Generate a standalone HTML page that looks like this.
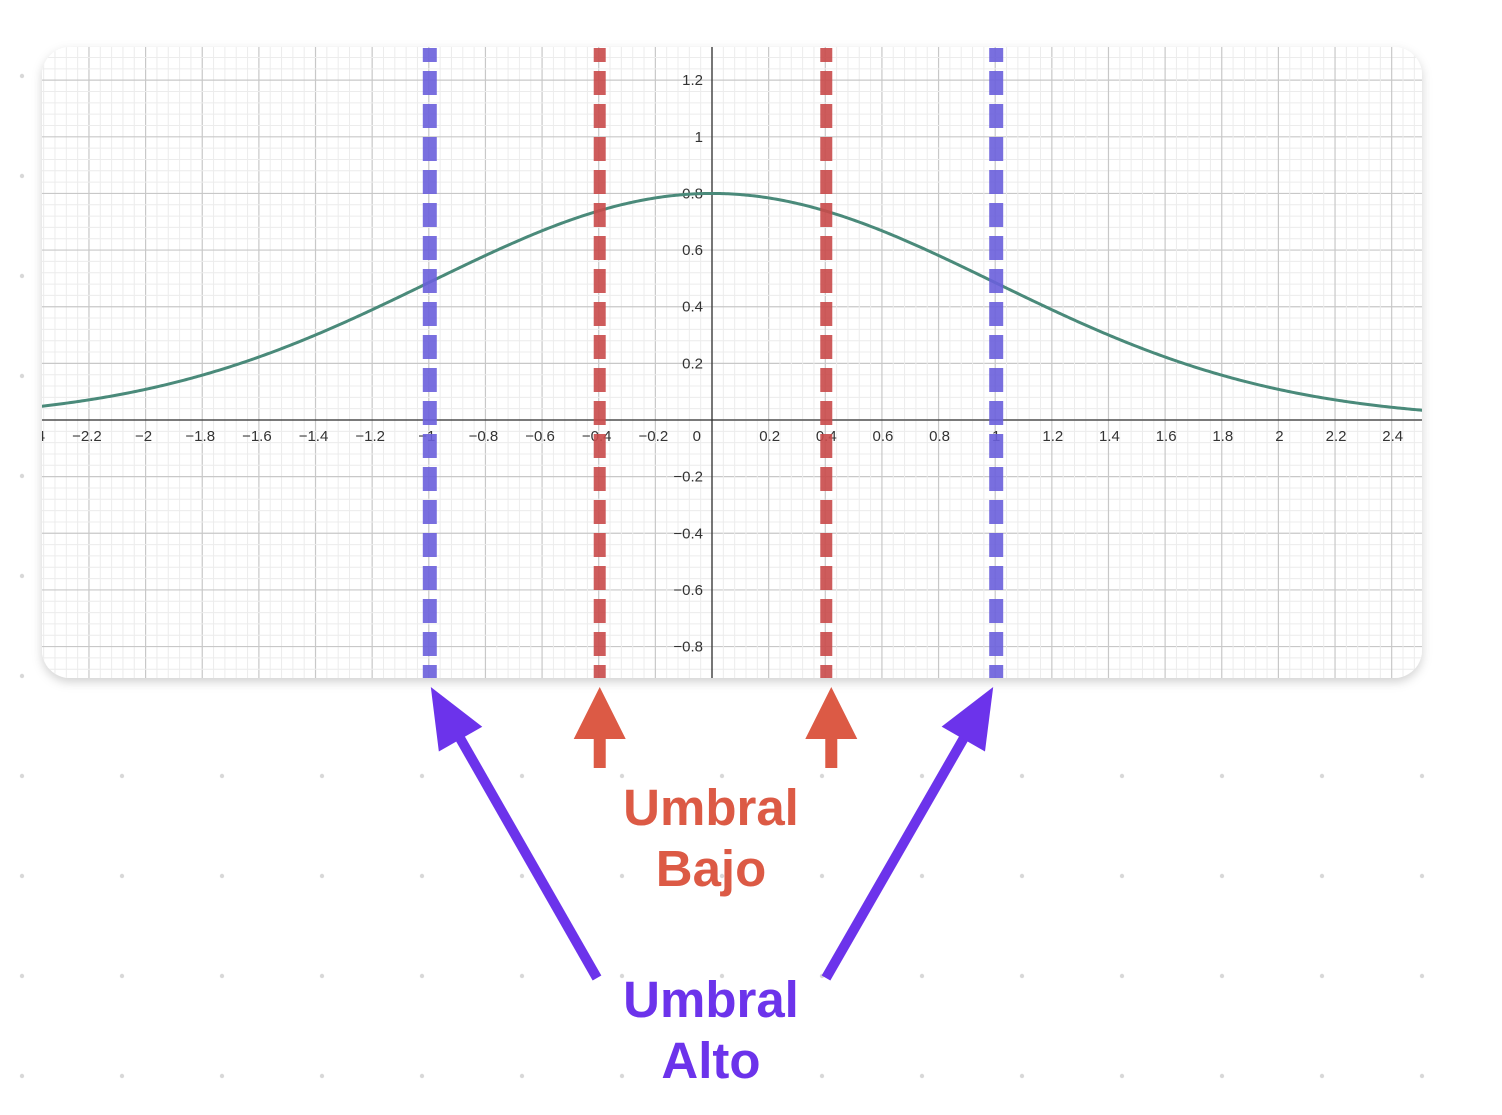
<!DOCTYPE html>
<html><head><meta charset="utf-8">
<style>
html,body{margin:0;padding:0;background:#fff;}
svg{display:block;font-family:"Liberation Sans",sans-serif;}
</style></head>
<body>
<svg id="s" width="1502" height="1115" viewBox="0 0 1502 1115">
<defs>
<clipPath id="card"><rect x="42" y="47" width="1380" height="631" rx="28"/></clipPath>
<filter id="sh" x="-5%" y="-5%" width="110%" height="115%"><feDropShadow dx="0" dy="4" stdDeviation="5" flood-color="#000" flood-opacity="0.18"/></filter>
</defs>
<g id="dots"></g>
<rect x="42" y="47" width="1380" height="631" rx="28" fill="#fff" filter="url(#sh)"/>
<g clip-path="url(#card)">
<g id="grid"></g>
<g id="axes"></g>
<g id="marks"></g>
</g>
<g id="annot"></g>
</svg>
<script>
const xTicks=[-2.4,-2.2,-2,-1.8,-1.6,-1.4,-1.2,-1,-0.8,-0.6,-0.4,-0.2,0.2,0.4,0.6,0.8,1,1.2,1.4,1.6,1.8,2,2.2,2.4];
const yTicks=[-0.8,-0.6,-0.4,-0.2,0.2,0.4,0.6,0.8,1,1.2];
const lowThresholds=[-0.4,0.4];
const highThresholds=[-1,1];
const peak=0.8;
const sigma=1;

const X0=712,Y0=420,U=283.2;
const sx=v=>X0+v*U, sy=v=>Y0-v*U;
const NS='http://www.w3.org/2000/svg';
function mk(tag,attrs,parent){const e=document.createElementNS(NS,tag);for(const k in attrs)e.setAttribute(k,attrs[k]);parent.appendChild(e);return e;}
const G=id=>document.getElementById(id);

for(let x=22;x<1502;x+=100)for(let y=76;y<1115;y+=100){
 if(x>30&&x<1430&&y>40&&y<690)continue;
 const d=mk('circle',{cx:x,cy:y,r:2.2,fill:'#d8d8d8'},G('dots'));
 
 
}
for(let i=-70;i<=70;i++){
 const v=i*0.04;const major=i%5===0;
 const x=sx(v);if(x>30&&x<1430){const l=mk('line',{x1:x,x2:x,y1:40,y2:690,stroke:major?'#c8c8c8':'#ececec','stroke-width':major?1.2:1},G('grid'));
 }
 const y=sy(v);if(y>40&&y<690){const l=mk('line',{x1:30,x2:1430,y1:y,y2:y,stroke:major?'#c8c8c8':'#ececec','stroke-width':major?1.2:1},G('grid'));
 }
}
let a=mk('line',{x1:30,x2:1430,y1:Y0,y2:Y0,stroke:'#333','stroke-width':1.3},G('axes'));

a=mk('line',{x1:X0,x2:X0,y1:40,y2:690,stroke:'#333','stroke-width':1.3},G('axes'));

const fmt=v=>(v<0?'\u2212':'')+String(Math.abs(+v.toFixed(2)));
xTicks.forEach(v=>{const t=mk('text',{x:sx(v)+(v<0?-2:1),y:Y0+21,'text-anchor':'middle','font-size':15,fill:'#333'},G('axes'));t.textContent=fmt(v);
 });
const z=mk('text',{x:X0-11,y:Y0+21,'text-anchor':'end','font-size':15,fill:'#333'},G('axes'));z.textContent='0';

yTicks.forEach(v=>{const t=mk('text',{x:X0-9,y:sy(v)+5,'text-anchor':'end','font-size':15,fill:'#333'},G('axes'));t.textContent=fmt(v);
 });
let d='';for(let px=30;px<=1430;px+=2){const v=(px-X0)/U;const f=peak*Math.exp(-v*v/(2*sigma*sigma));d+=(d?'L':'M')+px+' '+sy(f).toFixed(2);}
const c=mk('path',{d:d,fill:'none',stroke:'#4a8a7a','stroke-width':3},G('marks'));

lowThresholds.forEach(v=>{const l=mk('line',{x1:sx(v)+1,x2:sx(v)+1,y1:48,y2:678,stroke:'#c94a4a','stroke-opacity':0.9,'stroke-width':12,'stroke-dasharray':'24 9','stroke-dashoffset':'10'},G('marks'));
 });
highThresholds.forEach(v=>{const l=mk('line',{x1:sx(v)+1,x2:sx(v)+1,y1:48,y2:678,stroke:'#6a5fdc','stroke-opacity':0.9,'stroke-width':14,'stroke-dasharray':'24 9','stroke-dashoffset':'10'},G('marks'));
 });
const RED='#dc5a45',PUR='#6c33eb',A=G('annot');
lowThresholds.forEach(v=>{const x=sx(v)+(v>0?6:1);const g=mk('g',{},A);
 
 mk('polygon',{points:`${x},687 ${x-26},739 ${x+26},739`,fill:RED},g);
 mk('rect',{x:x-6,y:738,width:12,height:30,fill:RED},g);});
highThresholds.forEach(v=>{const tx=sx(v)+(v<0?2:-2);const sxp=v<0?597:826;const g=mk('g',{},A);
 
 const dx=tx-sxp,dy=687-978,L=Math.hypot(dx,dy),ux=dx/L,uy=dy/L;
 const bx=tx-ux*60,by=687-uy*60;
 mk('line',{x1:sxp,y1:978,x2:bx+ux*5,y2:by+uy*5,stroke:PUR,'stroke-width':10},g);
 mk('polygon',{points:`${tx},687 ${bx-uy*25},${by+ux*25} ${bx+uy*25},${by-ux*25}`,fill:PUR},g);});
function label(txt,y,col,name){const t=mk('text',{x:711,y:y,'text-anchor':'middle','font-size':51,'font-weight':'bold',fill:col},A);t.textContent=txt;
 }
label('Umbral',825,RED,'low-threshold-label');
label('Bajo',886,RED,'low-threshold-label');
label('Umbral',1017,PUR,'high-threshold-label');
label('Alto',1078,PUR,'high-threshold-label');
</script>
</body></html>
